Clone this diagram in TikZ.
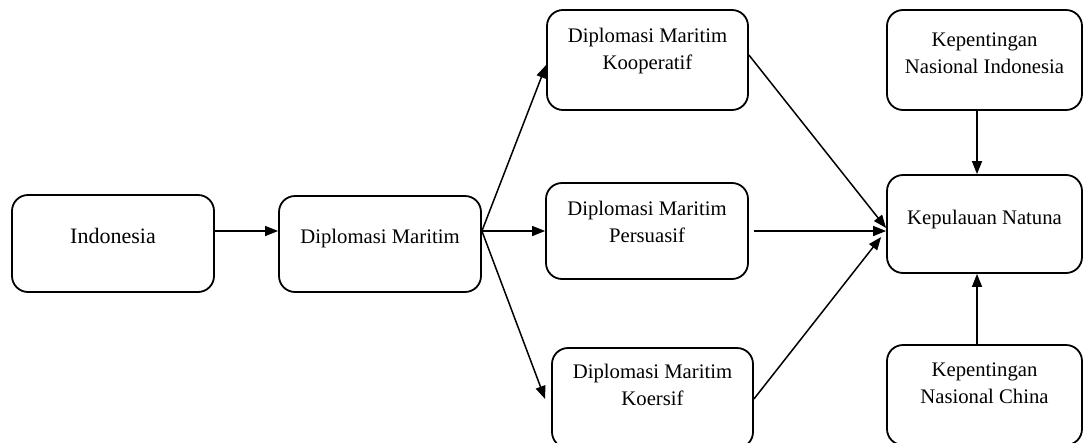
\documentclass[tikz,border=0pt]{standalone}
\usepackage{fontspec}
\setmainfont{Liberation Serif}
\usetikzlibrary{arrows.meta}
\begin{document}
\begin{tikzpicture}[x=1pt,y=-1pt,
  box/.style={draw, line width=1.8pt, rounded corners=16pt, inner sep=0pt},
  lbl/.style={align=center, anchor=base, inner sep=0pt,
    font=\fontsize{20.7}{26.5}\selectfont},
  arr/.style={line width=1.5pt, -{Triangle[length=13pt,width=10pt]}}]
% page frame
\useasboundingbox (0,0) rectangle (1083,442);
\fill[white] (0,0) rectangle (1083,442);
\clip (0,0) rectangle (1083,442);

% boxes
\node[box, minimum width=202pt, minimum height=97pt]  (indo) at (113,243.5) {};
\node[box, minimum width=202pt, minimum height=96pt]  (dm)   at (380,244) {};
\node[box, minimum width=201pt, minimum height=100pt] (koop) at (647.5,60) {};
\node[box, minimum width=202pt, minimum height=96pt]  (pers) at (647,231) {};
\node[box, minimum width=201pt, minimum height=100pt] (koer) at (652.5,398) {};
\node[box, minimum width=195pt, minimum height=100pt] (kni)  at (984.5,60) {};
\node[box, minimum width=195pt, minimum height=98pt]  (nat)  at (984.5,224) {};
\node[box, minimum width=195pt, minimum height=100pt] (knc)  at (984.5,395) {};

% labels (base anchor sits on the last line)
\node[lbl, font=\fontsize{22}{26.5}\selectfont] (t-indo) at (113,243) {Indonesia};
\node[lbl] (t-dm)   at (380,243) {Diplomasi Maritim};
\node[lbl] (t-koop) at (647.5,69) {Diplomasi Maritim\\Kooperatif};
\node[lbl] (t-pers) at (647,242) {Diplomasi Maritim\\Persuasif};
\node[lbl] (t-koer) at (652.5,405) {Diplomasi Maritim\\Koersif};
\node[lbl] (t-kni)  at (984.5,73) {Kepentingan\\Nasional Indonesia};
\node[lbl] (t-nat)  at (984.5,224) {Kepulauan Natuna};
\node[lbl] (t-knc)  at (984.5,403) {Kepentingan\\Nasional China};

% connectors
\draw[arr] ([yshift=12.5pt]indo.east) -- ([yshift=13pt]dm.west);
\draw[arr] ([yshift=13pt]dm.east) -- ([yshift=-5pt]koop.west);
\draw[arr] ([yshift=13pt]dm.east) -- (pers.west);
\draw[arr] ([yshift=13pt]dm.east) -- ([xshift=-6pt,yshift=-1pt]koer.west);
\draw[arr] ([yshift=5pt]koop.east) -- ([yshift=-4pt]nat.west);
\draw[arr] ([xshift=5pt]pers.east) -- ([yshift=-7pt]nat.west);
\draw[arr] ([yshift=-1pt]koer.east) -- ([xshift=-5pt,yshift=-13pt]nat.west);
\draw[arr] ([xshift=-7.5pt]kni.south) -- ([xshift=-7.5pt]nat.north);
\draw[arr] ([xshift=-7.5pt]knc.north) -- ([xshift=-7.5pt]nat.south);
\end{tikzpicture}
\end{document}
